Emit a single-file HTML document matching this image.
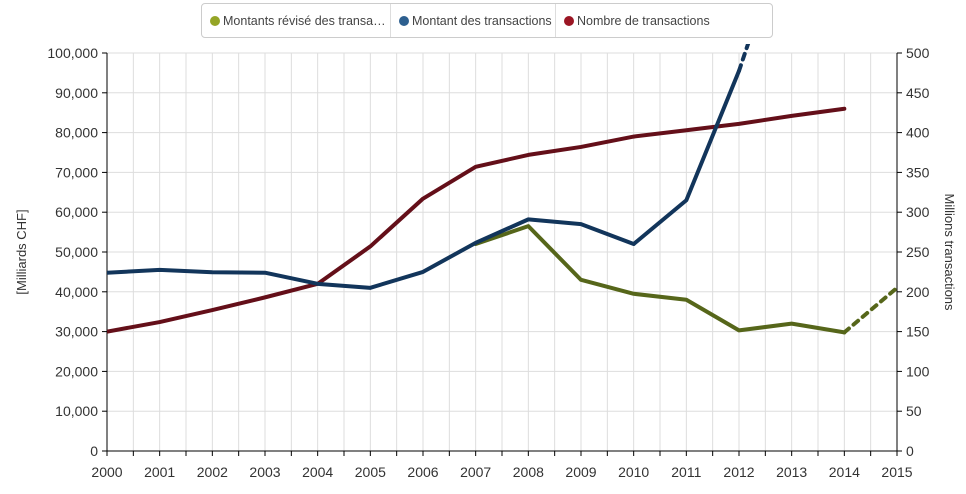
<!DOCTYPE html>
<html><head><meta charset="utf-8"><style>
body{margin:0;background:#fff;font-family:"Liberation Sans",sans-serif;}
#wrap{position:relative;width:966px;height:494px;overflow:hidden}
.legend{position:absolute;left:201px;top:3px;height:33px;border:1px solid #ccc;border-radius:4px;display:flex;font-size:12.5px;color:#444;background:#fff;white-space:nowrap}
.li{display:flex;align-items:center;padding:0 0 0 8px;border-right:1px solid #ddd;box-sizing:border-box;overflow:hidden}
.li:last-child{border-right:none}
.dot{width:10px;height:10px;border-radius:50%;margin-right:3px;flex:none}
</style></head><body>
<div id="wrap">
<svg id="svg" width="966" height="494" style="position:absolute;left:0;top:0"></svg>
<div class="legend">
<div class="li" style="width:189px"><div class="dot" style="background:#95a526"></div>Montants révisé des transa…</div>
<div class="li" style="width:165px"><div class="dot" style="background:#2d5f8f"></div>Montant des transactions</div>
<div class="li" style="width:216px"><div class="dot" style="background:#9b1624"></div>Nombre de transactions</div>
</div>
</div>
<script>
const years=[2000,2001,2002,2003,2004,2005,2006,2007,2008,2009,2010,2011,2012,2013,2014,2015];
const leftTicks=[0,10000,20000,30000,40000,50000,60000,70000,80000,90000,100000];
const rightTicks=[0,50,100,150,200,250,300,350,400,450,500];
const revisedYears=[2007,2008,2009,2010,2011,2012,2013,2014];
const revisedVals=[52000,56500,43000,39500,38000,30300,32000,29800];
const revisedProjYears=[2014,2015];
const revisedProjVals=[29800,41000];
const amountYears=[2000,2001,2002,2003,2004,2005,2006,2007,2008,2009,2010,2011,2012];
const amountVals=[44800,45500,44900,44800,42000,41000,45000,52300,58200,57000,52000,63000,95500];
const amountProjYears=[2012,2013];
const amountProjVals=[95500,135000];
const countYears=[2000,2001,2002,2003,2004,2005,2006,2007,2008,2009,2010,2011,2012,2013,2014];
const countVals=[150,162,177,193,210,257,317,357,372,382,395,403,411,421,430];

const svg=document.getElementById('svg');const NS='http://www.w3.org/2000/svg';
const X0=107,X1=897,Y0=451,Y1=53;
const x=v=>X0+(v-2000)/15*(X1-X0);
const yl=v=>Y0-v/100000*(Y0-Y1);
const yr=v=>Y0-v/500*(Y0-Y1);
function el(t,a,name){const e=document.createElementNS(NS,t);for(const k in a)e.setAttribute(k,a[k]);


svg.appendChild(e);return e;}
const defs=el('defs',{},'defs');
const cp=document.createElementNS(NS,'clipPath');cp.setAttribute('id','cp');
const cr=document.createElementNS(NS,'rect');cr.setAttribute('x',X0);cr.setAttribute('y',44);cr.setAttribute('width',X1-X0);cr.setAttribute('height',410);cp.appendChild(cr);defs.appendChild(cp);
for(let i=0;i<=30;i++){const xv=x(2000+i/2);
el('line',{x1:xv,x2:xv,y1:Y1,y2:Y0,stroke:'#ddd','stroke-width':1},'v-gridline');
el('line',{x1:xv,x2:xv,y1:Y0,y2:Y0+5,stroke:'#000','stroke-width':1},'x-tick');}
leftTicks.forEach(t=>{const yv=yl(t);
el('line',{x1:X0,x2:X1,y1:yv,y2:yv,stroke:'#ddd','stroke-width':1},'h-gridline');
el('line',{x1:X0-5,x2:X0,y1:yv,y2:yv,stroke:'#000'},'y-left-tick');
const tx=el('text',{x:X0-9,y:yv+5,'text-anchor':'end','font-size':14,fill:'#333'},'y-left-label');tx.textContent=t.toLocaleString('en-US');});
rightTicks.forEach(t=>{const yv=yr(t);
el('line',{x1:X1,x2:X1+5,y1:yv,y2:yv,stroke:'#000'},'y-right-tick');
const tx=el('text',{x:X1+9,y:yv+5,'font-size':14,fill:'#333'},'y-right-label');tx.textContent=t;});
years.forEach(yr_=>{const tx=el('text',{x:x(yr_),y:477,'text-anchor':'middle','font-size':14,fill:'#333'},'x-label');tx.textContent=yr_;});
el('line',{x1:X0,x2:X0,y1:Y1,y2:Y0,stroke:'#000'},'y-left-axis');
el('line',{x1:X1,x2:X1,y1:Y1,y2:Y0,stroke:'#000'},'y-right-axis');
el('line',{x1:X0,x2:X1,y1:Y0,y2:Y0,stroke:'#000'},'x-axis');
let t1=el('text',{x:0,y:0,'font-size':13,fill:'#333','text-anchor':'middle',transform:`translate(26,252) rotate(-90)`},'y-left-title');t1.textContent='[Milliards CHF]';
let t2=el('text',{x:0,y:0,'font-size':13,fill:'#333','text-anchor':'middle',transform:`translate(945,252) rotate(90)`},'y-right-title');t2.textContent='Millions transactions';
function line(xs,vs,f,col,name,dash){const d=xs.map((v,i)=>(i?'L':'M')+x(v)+','+f(vs[i])).join('');
const a={d:d,fill:'none',stroke:col,'stroke-width':4,'stroke-linejoin':'round','stroke-linecap':'round','clip-path':'url(#cp)'};
if(dash)a['stroke-dasharray']='6,6';el('path',a,name);}
line(revisedYears,revisedVals,yl,'#56661a','series-revised');
line(revisedProjYears,revisedProjVals,yl,'#56661a','series-revised-projection',true);
line(countYears,countVals,yr,'#640f19','series-count');
line(amountYears,amountVals,yl,'#12355b','series-amount');
line(amountProjYears,amountProjVals,yl,'#12355b','series-amount-projection',true);
</script>
</body></html>
